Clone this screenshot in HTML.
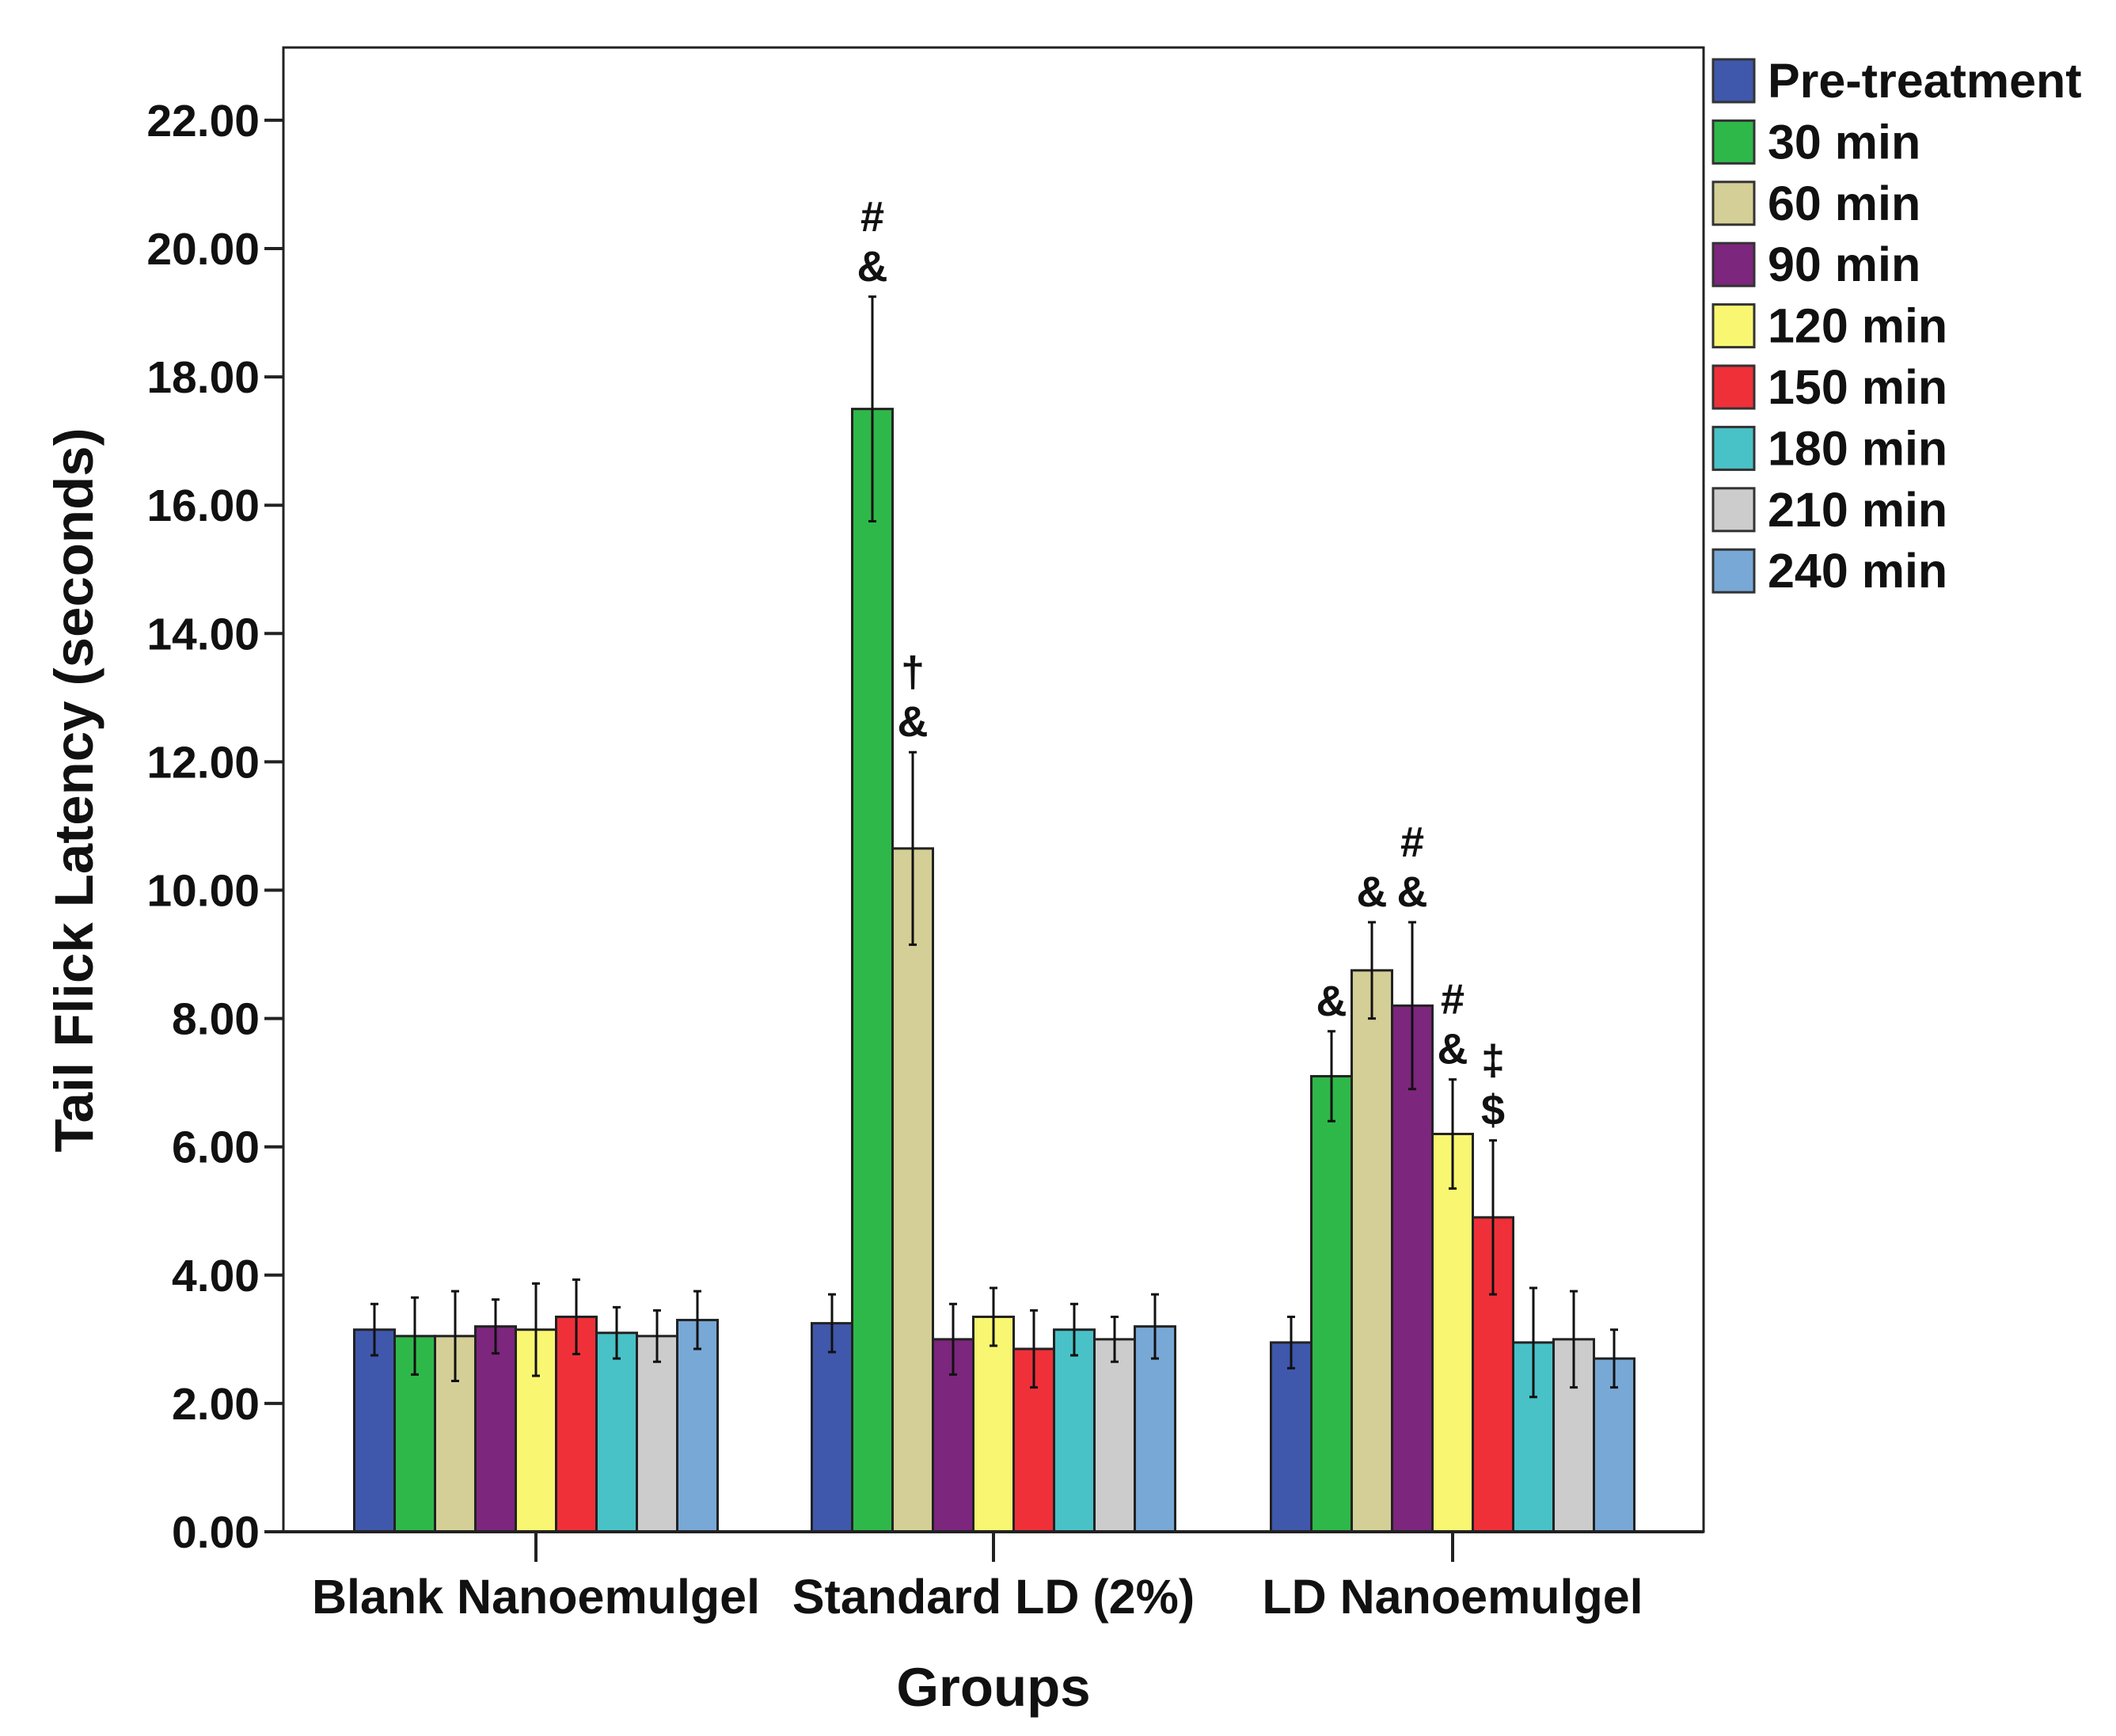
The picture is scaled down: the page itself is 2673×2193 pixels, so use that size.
<!DOCTYPE html>
<html><head><meta charset="utf-8"><style>
html,body{margin:0;padding:0;background:#fff;}
svg text{font-family:"Liberation Sans",Arial,sans-serif;font-weight:bold;fill:#111;}
</style></head><body>
<svg id="chart" width="2673" height="2188" viewBox="0 0 2673 2188" xmlns="http://www.w3.org/2000/svg">
<g id="plot"></g>
</svg>
<script>
const categories = ["Blank Nanoemulgel","Standard LD (2%)","LD Nanoemulgel"];
const seriesNames = ["Pre-treatment","30 min","60 min","90 min","120 min","150 min","180 min","210 min","240 min"];
const seriesColors = ["#3f58ac","#2fb84a","#d4cf96","#7c267d","#f9f672","#ef3039","#48c2c7","#cccccc","#78a8d6"];
const blankValues = [3.15,3.05,3.05,3.2,3.15,3.35,3.1,3.05,3.3];
const standardValues = [3.25,17.5,10.65,3.0,3.35,2.85,3.15,3.0,3.2];
const ldValues = [2.95,7.1,8.75,8.2,6.2,4.9,2.95,3.0,2.7];
const blankErrors = [0.4,0.6,0.7,0.42,0.72,0.58,0.4,0.4,0.45];
const standardErrors = [0.45,1.75,1.5,0.55,0.45,0.6,0.4,0.35,0.5];
const ldErrors = [0.4,0.7,0.75,1.3,0.85,1.2,0.85,0.75,0.45];
const yTicks = [0,2,4,6,8,10,12,14,16,18,20,22];
const yTickLabels = ["0.00","2.00","4.00","6.00","8.00","10.00","12.00","14.00","16.00","18.00","20.00","22.00"];
const annotGroups = [1,1,2,2,2,2,2];
const annotSeries = [1,2,1,2,3,4,5];
const annotLines = [["&","#"],["&","†"],["&"],["&"],["&","#"],["&","#"],["$","‡"]];

const values=[blankValues,standardValues,ldValues];
const errors=[blankErrors,standardErrors,ldErrors];
const NS="http://www.w3.org/2000/svg";
const svg=document.getElementById('chart');
const L=358,R=2152,T=60,B=1935;
const y0=B, unit=81.05;
function y(v){return y0-v*unit;}
const groupCenters=[677,1255,1835];
const barW=51;
function x(g,s){return groupCenters[g]-barW*9/2+s*barW;}
function mk(tag,attrs){const e=document.createElementNS(NS,tag);for(const k in attrs)e.setAttribute(k,attrs[k]);svg.appendChild(e);return e;}

let e=mk('rect',{x:L,y:T,width:R-L,height:B-T,fill:'none',stroke:'#222','stroke-width':3});



yTicks.forEach((v,i)=>{
 let t=mk('line',{x1:L-24,x2:L,y1:y(v),y2:y(v),stroke:'#222','stroke-width':4});
 
 
 let tx=mk('text',{x:L-30,y:y(v)+20,'text-anchor':'end','font-size':57});
 tx.textContent=yTickLabels[i];
 
 
});

values.forEach((arr,g)=>{
 arr.forEach((v,s)=>{
  let r=mk('rect',{x:x(g,s),y:y(v),width:barW,height:y(0)-y(v),fill:seriesColors[s],stroke:'#222','stroke-width':3});
  
  
  const cx=x(g,s)+barW/2, er=errors[g][s];
  let el=mk('path',{d:`M${cx},${y(v+er)}V${y(v-er)}M${cx-5},${y(v+er)}H${cx+5}M${cx-5},${y(v-er)}H${cx+5}`,stroke:'#111','stroke-width':3,fill:'none'});
  
  
 });
 let gt=mk('line',{x1:groupCenters[g],x2:groupCenters[g],y1:B,y2:B+38,stroke:'#222','stroke-width':4});
 
 
 let ct=mk('text',{x:groupCenters[g],y:2038,'text-anchor':'middle','font-size':61});
 ct.textContent=categories[g];
 
 
});
e=mk('line',{x1:L,x2:R,y1:B,y2:B,stroke:'#222','stroke-width':4});



annotGroups.forEach((g,i)=>{
 const s=annotSeries[i];
 const v=values[g][s]+errors[g][s];
 const cx=x(g,s)+barW/2;
 annotLines[i].forEach((txt,j)=>{
  let a=mk('text',{x:cx,y:y(v)-20-63*j,'text-anchor':'middle','font-size':54});
  a.textContent=txt;
  
  
 });
});

e=mk('text',{x:1255,y:2155,'text-anchor':'middle','font-size':69});
e.textContent='Groups';


e=mk('text',{x:0,y:0,'text-anchor':'middle','font-size':69,transform:'translate(117,998) rotate(-90)'});
e.textContent='Tail Flick Latency (seconds)';



seriesNames.forEach((n,i)=>{
 const ly=102+i*77.4;
 let sw=mk('rect',{x:2164,y:ly-27,width:52,height:54,fill:seriesColors[i],stroke:'#333','stroke-width':3});
 
 
 let lt=mk('text',{x:2233,y:ly+21,'font-size':61});
 lt.textContent=n;
 
 
});
</script>
</body></html>
